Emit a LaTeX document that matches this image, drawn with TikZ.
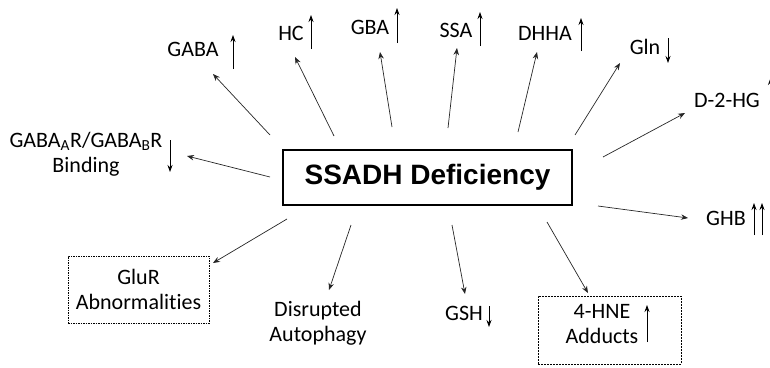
\documentclass[tikz,border=0pt]{standalone}
\usepackage{fontspec}
\setmainfont{Carlito}[Ligatures=NoCommon]
\newfontfamily\hubfont{Liberation Sans}
\usetikzlibrary{arrows.meta}

\begin{document}
\begin{tikzpicture}[
        x=1pt, y=-1pt,
        font=\fontsize{22}{25}\selectfont,
        label/.style={align=center, inner sep=0pt},
        hub/.style={draw, line width=1.2pt, minimum width=289pt, minimum height=55pt, inner sep=0pt, font=\hubfont\bfseries\fontsize{28}{30}\selectfont},
        dotbox/.style={draw, line width=0.6pt, dash pattern=on 1.5pt off 1pt, minimum width=141pt, minimum height=67pt},
        dashbox/.style={draw, line width=0.7pt, dash pattern=on 2pt off 1pt, minimum width=143pt, minimum height=68pt},
        arrow/.style={-{Stealth[length=7pt,width=5.5pt]}, line width=0.7pt, draw=black!85},
        trend/.style={-{Stealth[length=7pt,width=5pt]}, line width=0.8pt},
    ]
    \clip (0,0) rectangle (770,367);

    % Centre
    \node[hub] (ssadh) at (427.5,177.5) {SSADH Deficiency};

    % Labels
    \node[label] (gaba) at (193,49) {GABA};
    \node[label] (hc) at (291,33) {HC};
    \node[label] (gba) at (370,27) {GBA};
    \node[label] (ssa) at (456,30) {SSA};
    \node[label] (dhha) at (545,33) {DHHA};
    \node[label] (gln) at (645,47) {Gln};
    \node[label] (dhg) at (727,100) {D-2-HG};
    \node[label] (ghb) at (726,218) {GHB};
    \node[label] (gabar) at (86,154) {GABA\textsubscript{A}R/GABA\textsubscript{B}R\\Binding};
    \node[label] (gsh) at (464,313) {GSH};
    \node[label] (auto) at (318,323) {Disrupted\\Autophagy};
    \node[dotbox] (glurbox) at (138.5,289.5) {};
    \node[label] (glur) at (138.5,289.5) {GluR\\Abnormalities};
    \node[dashbox] (hnebox) at (609.5,330) {};
    \node[label] (hne) at (602,324.5) {4-HNE\\Adducts};

    % Connectors
    \foreach \n/\sx/\sy/\ex/\ey in {gaba/270/135/213/74, hc/334/136/295/57, gba/392/127/380/52,
        ssa/448/128/457/48, dhha/518/132/537/52, gln/575/135/620/63, dhg/603/157/685/113,
        ghb/598/206/688/218, gabar/270/177/187/156, glur/287/219/213/263, auto/351/225/329/290,
        gsh/452/225/465/294, hne/547/222/588/293} {
        \coordinate (from-\n) at (\sx,\sy);
        \coordinate (to-\n) at (\ex,\ey);
        \draw[arrow] (from-\n) -- (to-\n);
    }

    % Up / down marks
    \draw[trend] (233,69) -- (233,35);
    \draw[trend] (311,49) -- (311,15);
    \draw[trend] (397,43) -- (397,8);
    \draw[trend] (480,46) -- (480,12);
    \draw[trend] (581,51) -- (581,18);
    \draw[trend] (668,38) -- (668,63);
    \draw[trend] (770.5,112) -- (770.5,78);
    \draw[trend] (754,235) -- (754,203);
    \draw[trend] (762,235) -- (762,203);
    \draw[trend] (170,140) -- (170,172);
    \draw[trend] (489,306) -- (489,327);
    \draw[trend] (647,342) -- (647,305);

\end{tikzpicture}
\end{document}
